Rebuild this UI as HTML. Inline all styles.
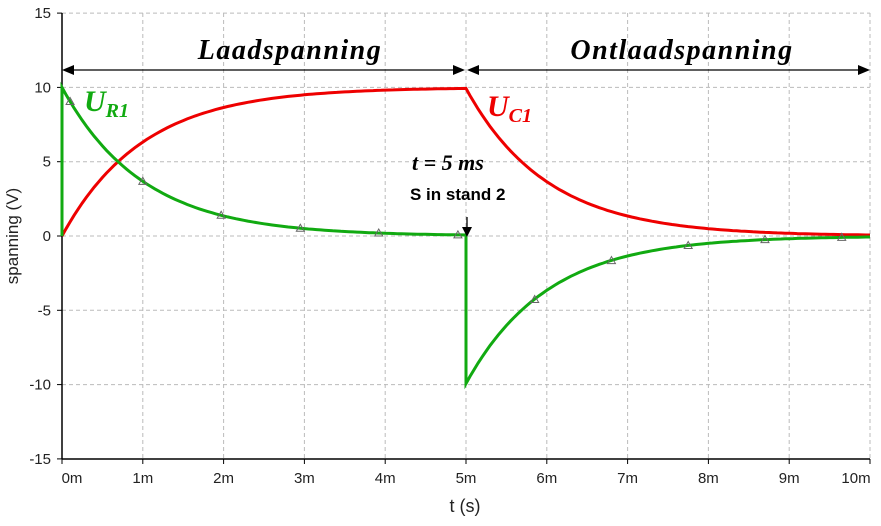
<!DOCTYPE html><html><head><meta charset="utf-8"><style>body{margin:0;background:#fff}svg{display:block}</style></head><body>
<svg id="s" width="881" height="526" xmlns="http://www.w3.org/2000/svg" font-family="Liberation Sans, sans-serif">
<g id="grid" stroke="#bbb" stroke-dasharray="4,3" stroke-width="1"></g>
<line x1="62" y1="13" x2="62" y2="459" stroke="#000" stroke-width="1.5"/>
<line x1="62" y1="459" x2="870" y2="459" stroke="#000" stroke-width="1.5"/>
<g id="lab" font-size="15" fill="#222"></g>
<text x="465" y="512" font-size="18" text-anchor="middle" fill="#222">t (s)</text>
<text transform="translate(18,236) rotate(-90)" font-size="17" text-anchor="middle" fill="#222">spanning (V)</text>
<path id="red" fill="none" stroke="#e00" stroke-width="3"/>
<path id="grn" fill="none" stroke="#1a1" stroke-width="3"/>
<g id="mk" fill="none" stroke="#666" stroke-width="1"></g>
<g stroke="#000" stroke-width="1.3">
<line x1="66" y1="70" x2="461" y2="70"/><line x1="470" y1="70" x2="866" y2="70"/>
<line x1="467" y1="217" x2="467" y2="230"/></g>
<g fill="#000">
<polygon points="62,70 74,65 74,75"/><polygon points="465,70 453,65 453,75"/>
<polygon points="467,70 479,65 479,75"/><polygon points="870,70 858,65 858,75"/>
<polygon points="467,237 462,227 472,227"/></g>
<g font-family="Liberation Serif, serif" font-weight="bold" font-style="italic">
<text x="290" y="59" font-size="28" text-anchor="middle" letter-spacing="1.5">Laadspanning</text>
<text x="682" y="59" font-size="28" text-anchor="middle" letter-spacing="1.5">Ontlaadspanning</text>
<text x="84" y="111" font-size="30" fill="#1a1">U<tspan font-size="20" dy="6">R1</tspan></text>
<text x="487" y="116" font-size="30" fill="#e00">U<tspan font-size="20" dy="6">C1</tspan></text>
<text x="412" y="170" font-size="22">t = 5 ms</text>
</g>
<text x="410" y="200" font-size="17" font-weight="bold">S in stand 2</text>
</svg>
<script>
const X=t=>62+t*80.8, Y=v=>236-v*14.86;
let g=document.getElementById('grid'),l=document.getElementById('lab'),h='',lh='';
for(let i=1;i<=10;i++){h+=`<line x1="${X(i)}" y1="13" x2="${X(i)}" y2="459"/>`;}
for(let v=-15;v<=15;v+=5){if(v>-15)h+=`<line x1="62" y1="${Y(v)}" x2="870" y2="${Y(v)}"/>`;lh+=`<text x="51" y="${Y(v)+5}" text-anchor="end">${v}</text><line x1="57" y1="${Y(v)}" x2="62" y2="${Y(v)}" stroke="#000"/>`;}
for(let i=0;i<=10;i++){lh+=`<text x="${X(i)+(i==0?10:i==10?-14:0)}" y="483" text-anchor="middle">${i}m</text><line x1="${X(i)}" y1="459" x2="${X(i)}" y2="464" stroke="#000"/>`;}
g.innerHTML=h;l.innerHTML=lh;
let r='',q='';
for(let t=0;t<=10.001;t+=0.05){let vc=t<=5?10*(1-Math.exp(-t)):10*(1-Math.exp(-5))*Math.exp(-(t-5));
let vr=t<=5?10*Math.exp(-t):-vc;
r+=(t==0?'M':'L')+X(t).toFixed(1)+','+Y(vc).toFixed(1);
if(t==0)q='M62,236L62,'+Y(10);
if(Math.abs(t-5)<0.01){q+='L'+X(5)+','+Y(vr)+'L'+X(5)+','+Y(-vc);}
else q+='L'+X(t).toFixed(1)+','+Y(vr).toFixed(1);}
document.getElementById('red').setAttribute('d',r);
document.getElementById('grn').setAttribute('d',q);
let m='';[0.1,1.0,1.97,2.95,3.92,4.9,5.85,6.8,7.75,8.7,9.65].forEach(t=>{let v=t<5?10*Math.exp(-t):-10*Math.exp(-(t-5));let x=X(t),y=Y(v);m+=`<polygon points="${x},${y-4} ${x-4},${y+3} ${x+4},${y+3}"/>`;});
document.getElementById('mk').innerHTML=m;
</script></body></html>
